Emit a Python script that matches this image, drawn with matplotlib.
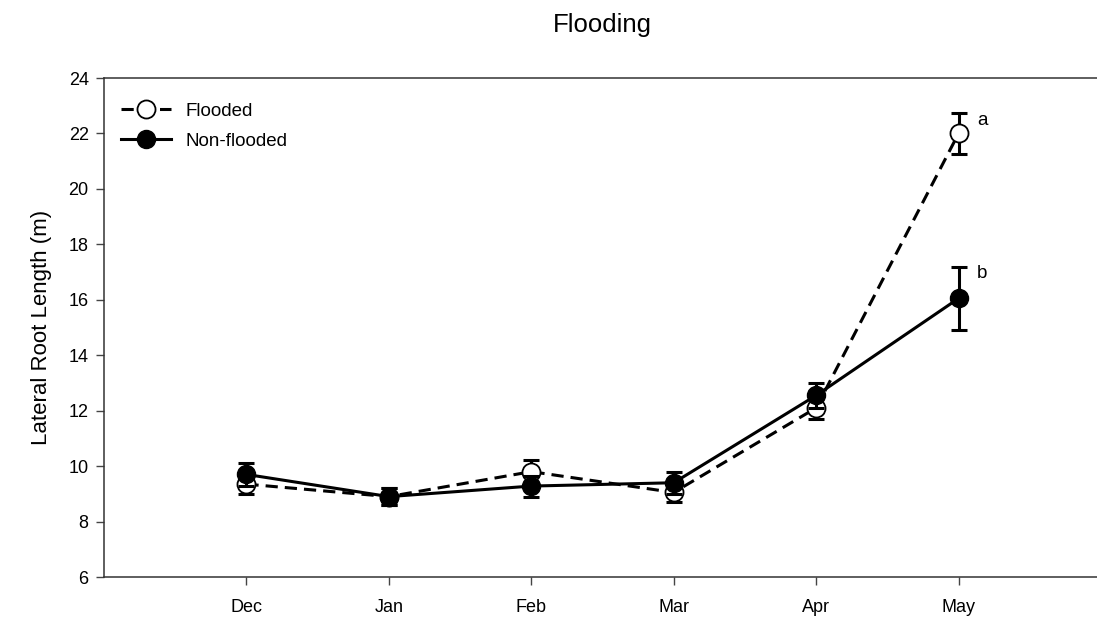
import matplotlib.pyplot as plt
import numpy as np

plt.rcParams["font.family"] = ["Liberation Sans", "DejaVu Sans"]

months = ["Dec", "Jan", "Feb", "Mar", "Apr", "May"]
flooded = [9.35, 8.9, 9.8, 9.05, 12.1, 22.0]
flooded_se = [0.35, 0.3, 0.42, 0.33, 0.4, 0.75]
non_flooded = [9.7, 8.9, 9.28, 9.4, 12.55, 16.05]
non_flooded_se = [0.4, 0.3, 0.38, 0.4, 0.45, 1.15]
letters = ["a", "b"]

x = np.arange(len(months))

fig = plt.figure(figsize=(10.97, 6.26), dpi=100)
ax = fig.add_axes([104 / 1097, 1 - 577 / 626, 997 / 1097, 499 / 626])

lw = 2.2
# flooded: dashed line, open circles
ax.errorbar(x, flooded, yerr=flooded_se, fmt="none", ecolor="black",
            elinewidth=lw, capsize=6, capthick=lw, zorder=2)
ax.plot(x, flooded, color="black", lw=lw, dashes=(4, 2.3), marker="o",
        markersize=13, markerfacecolor="white", markeredgecolor="black",
        markeredgewidth=1.3, label="Flooded", zorder=3)
# non-flooded: solid line, filled circles
ax.errorbar(x, non_flooded, yerr=non_flooded_se, fmt="none", ecolor="black",
            elinewidth=lw, capsize=6, capthick=lw, zorder=4)
ax.plot(x, non_flooded, color="black", lw=lw, ls="-", marker="o",
        markersize=13, markerfacecolor="black", markeredgecolor="black",
        label="Non-flooded", zorder=5)

# significance letters at May
ax.text(x[-1] + 0.13, flooded[-1] + 0.45, letters[0], fontsize=13.5, va="center", ha="left")
ax.text(x[-1] + 0.13, non_flooded[-1] + 0.9, letters[1], fontsize=13.5, va="center", ha="left")

ax.set_xlim(-1, 6)
ax.set_ylim(6, 24)
ax.set_yticks(np.arange(6, 25, 2))
ax.set_xticks(x)
ax.set_xticklabels(months)
ax.tick_params(axis="both", direction="out", labelsize=13, length=6,
               width=1, color="#444444")
ax.tick_params(axis="x", pad=10)
ax.tick_params(axis="y", pad=5)
for s in ["left", "bottom", "top"]:
    ax.spines[s].set_linewidth(1.1)
    ax.spines[s].set_color("#333333")
ax.spines["right"].set_visible(False)

ax.set_ylabel("Lateral Root Length (m)", fontsize=16, labelpad=12)
ax.set_title("Flooding", fontsize=18.5, pad=33)

ax.legend(loc="upper left", frameon=False, fontsize=13.5, handlelength=2.7,
          handletextpad=0.75, labelspacing=0.68, borderaxespad=0.6,
          bbox_to_anchor=(-0.002, 0.988))

fig.savefig("out.png", dpi=100)
